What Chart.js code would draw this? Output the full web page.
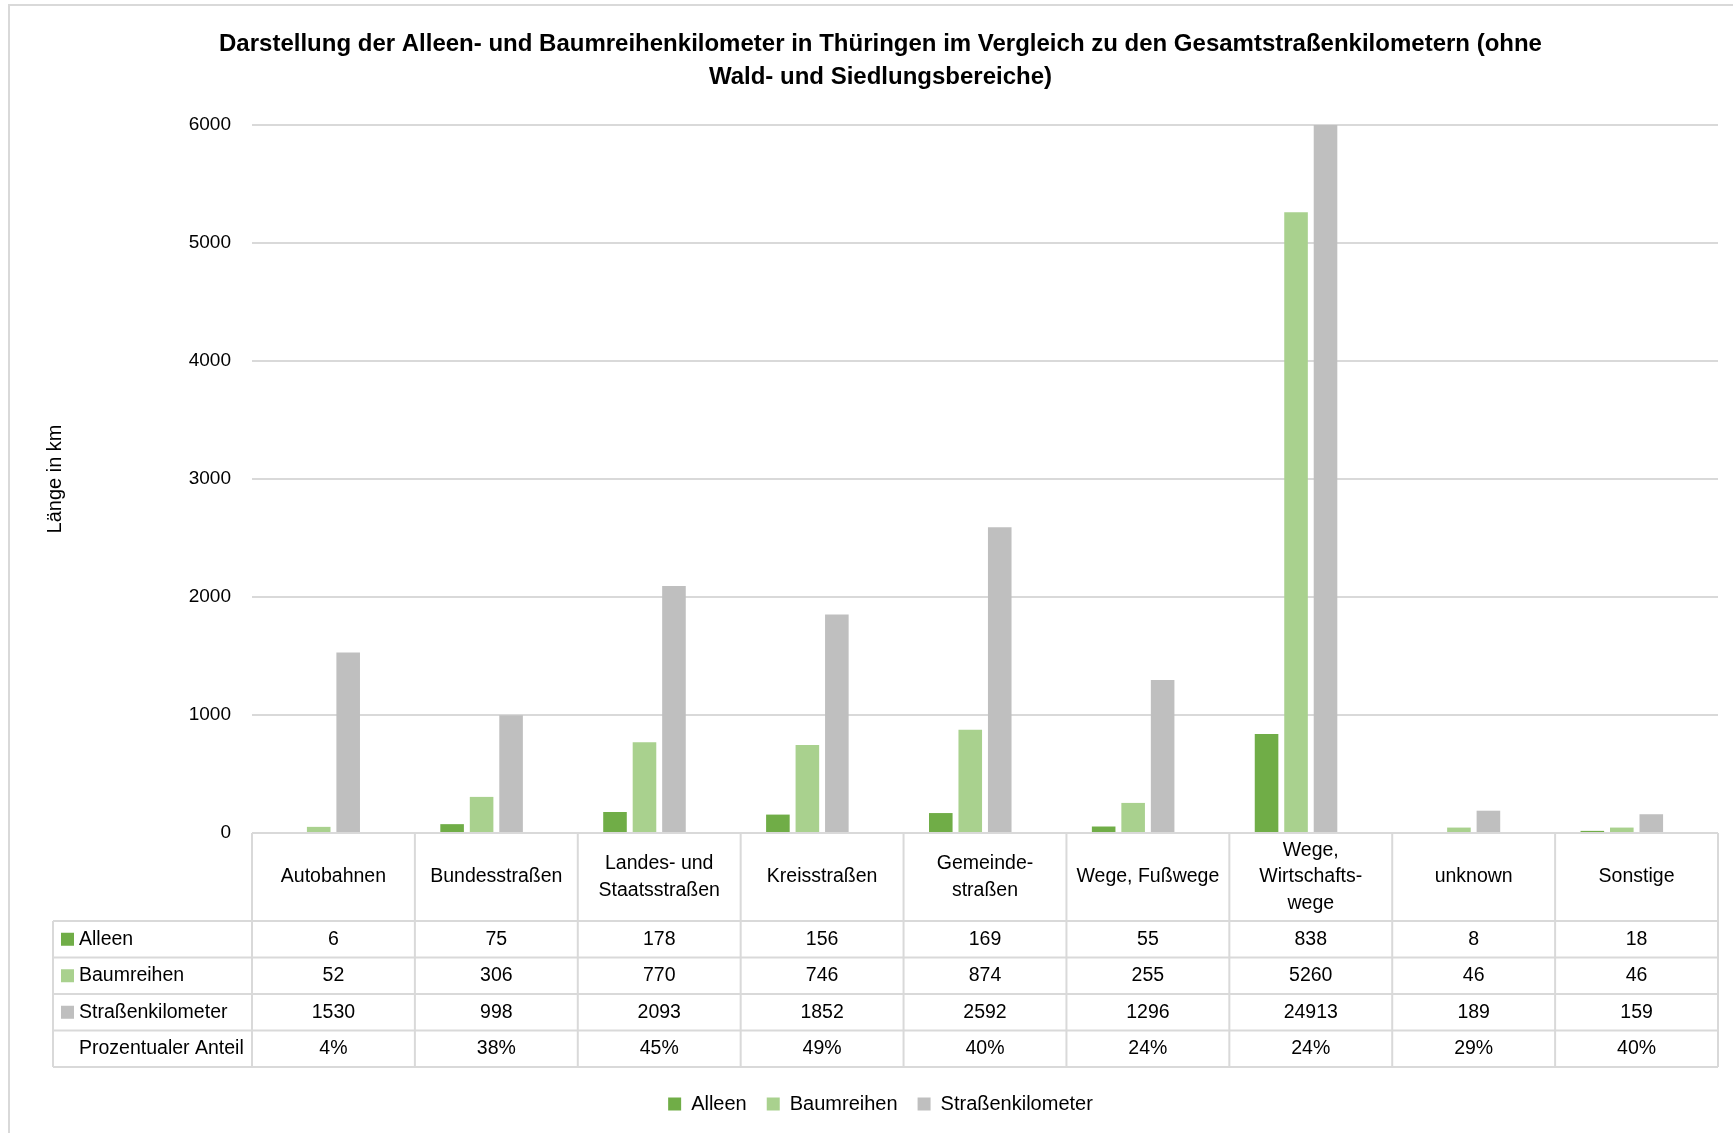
<!DOCTYPE html>
<html>
<head>
<meta charset="utf-8">
<title>Alleen und Baumreihen in Thüringen</title>
<script src="https://cdn.jsdelivr.net/npm/chart.js@4.4.1/dist/chart.umd.min.js"></script>
<style>
  body { margin: 0; background: #fff; }
  #wrap { width: 1733px; height: 1133px; }
</style>
</head>
<body>
<div id="wrap"><canvas id="chart"></canvas></div>
<script>
// Straßenkategorien (mehrzeilige Beschriftung für die Tabellenköpfe)
const categories = [
    ['Autobahnen'],
    ['Bundesstraßen'],
    ['Landes- und', 'Staatsstraßen'],
    ['Kreisstraßen'],
    ['Gemeinde-', 'straßen'],
    ['Wege, Fußwege'],
    ['Wege,', 'Wirtschafts-', 'wege'],
    ['unknown'],
    ['Sonstige'],
];

// Längen in km
const alleen = [6, 75, 178, 156, 169, 55, 838, 8, 18];
const baumreihen = [52, 306, 770, 746, 874, 255, 5260, 46, 46];
const strassenkm = [1530, 998, 2093, 1852, 2592, 1296, 24913, 189, 159];
// Anteil (Alleen + Baumreihen) an den Straßenkilometern
const anteil = [0.04, 0.38, 0.45, 0.49, 0.40, 0.24, 0.24, 0.29, 0.40];

const yMax = 6000;
const yStep = 1000;

const colors = {
    alleen: '#70AD47',
    baumreihen: '#A9D18E',
    strassen: '#BFBFBF',
};

const FONT = '"Liberation Sans", Arial, sans-serif';
const LINE = '#D9D9D9';

// Rahmen um das ganze Diagramm
const framePlugin = {
    id: 'frame',
    beforeDraw(chart) {
        const ctx = chart.ctx;
        ctx.save();
        ctx.fillStyle = '#fff';
        ctx.fillRect(0, 0, chart.width, chart.height);
        ctx.strokeStyle = LINE;
        ctx.lineWidth = 2;
        ctx.strokeRect(9, 5, chart.width + 10, chart.height + 10);
        ctx.restore();
    },
};

// Datentabelle unterhalb der Rubrikenachse
const tablePlugin = {
    id: 'datatable',
    afterDraw(chart) {
        const { ctx, chartArea } = chart;
        const x = chart.scales.x;
        const n = categories.length;
        const colW = (chartArea.right - chartArea.left) / n;
        const top = chartArea.bottom;
        const headH = 88;
        const rowH = 36.5;
        const tableLeft = 53;

        const rows = [
            { label: 'Alleen', color: colors.alleen, values: alleen },
            { label: 'Baumreihen', color: colors.baumreihen, values: baumreihen },
            { label: 'Straßenkilometer', color: colors.strassen, values: strassenkm },
            { label: 'Prozentualer Anteil', color: null, values: anteil.map(v => Math.round(v * 100) + '%') },
        ];
        const bottom = top + headH + rows.length * rowH;

        ctx.save();
        ctx.strokeStyle = LINE;
        ctx.lineWidth = 2;

        // horizontale Linien
        ctx.beginPath();
        ctx.moveTo(chartArea.left, top);
        ctx.lineTo(chartArea.right, top);
        for (let r = 0; r <= rows.length; r++) {
            const y = top + headH + r * rowH;
            ctx.moveTo(tableLeft, y);
            ctx.lineTo(chartArea.right, y);
        }
        // vertikale Linien
        for (let i = 0; i <= n; i++) {
            const xx = chartArea.left + i * colW;
            ctx.moveTo(xx, top);
            ctx.lineTo(xx, bottom);
        }
        ctx.moveTo(tableLeft, top + headH);
        ctx.lineTo(tableLeft, bottom);
        ctx.stroke();

        ctx.fillStyle = '#000';
        ctx.textAlign = 'center';
        ctx.textBaseline = 'middle';
        ctx.font = '19.5px ' + FONT;

        // Kopfzeile
        categories.forEach((lines, i) => {
            const cx = x.getPixelForValue(i);
            const lh = 26.5;
            const y0 = top + headH / 2 - (lines.length - 1) * lh / 2;
            lines.forEach((t, k) => ctx.fillText(t, cx, y0 + k * lh));
        });

        // Datenzeilen
        rows.forEach((row, r) => {
            const cy = top + headH + r * rowH + rowH / 2;
            if (row.color) {
                ctx.fillStyle = row.color;
                ctx.fillRect(tableLeft + 8, cy - 6.5, 13, 13);
            }
            ctx.fillStyle = '#000';
            ctx.textAlign = 'left';
            ctx.fillText(row.label, tableLeft + 26, cy);
            ctx.textAlign = 'center';
            row.values.forEach((v, i) => ctx.fillText(String(v), x.getPixelForValue(i), cy));
        });
        ctx.restore();
    },
};

const ctx = document.getElementById('chart');
new Chart(ctx, {
    type: 'bar',
    data: {
        labels: categories,
        datasets: [
            { label: 'Alleen', data: alleen, backgroundColor: colors.alleen },
            { label: 'Baumreihen', data: baumreihen, backgroundColor: colors.baumreihen },
            { label: 'Straßenkilometer', data: strassenkm, backgroundColor: colors.strassen },
            { label: 'Prozentualer Anteil', data: anteil, backgroundColor: 'rgba(0,0,0,0)' },
        ],
    },
    options: {
        responsive: true,
        maintainAspectRatio: false,
        animation: false,
        datasets: {
            bar: { categoryPercentage: 0.724, barPercentage: 0.8, borderWidth: 0 },
        },
        layout: { padding: { left: 43, right: 15, top: 0, bottom: 9 } },
        plugins: {
            title: {
                display: true,
                text: [
                    'Darstellung der Alleen- und Baumreihenkilometer in Thüringen im Vergleich zu den Gesamtstraßenkilometern (ohne',
                    'Wald- und Siedlungsbereiche)',
                ],
                color: '#000',
                font: { family: FONT, size: 24, weight: 'bold', lineHeight: 1.375 },
                padding: { top: 28, bottom: 31 },
            },
            legend: {
                position: 'bottom',
                labels: {
                    color: '#000',
                    font: { family: FONT, size: 20 },
                    boxWidth: 13,
                    boxHeight: 13,
                    padding: 20,
                    filter: (item) => item.datasetIndex < 3,
                },
            },
            tooltip: { enabled: false },
        },
        scales: {
            x: {
                grid: { display: false },
                border: { display: false },
                ticks: { display: false },
                afterFit(scale) { scale.height = 241; },
            },
            y: {
                min: 0,
                max: yMax,
                ticks: {
                    stepSize: yStep,
                    color: '#000',
                    font: { family: FONT, size: 19 },
                    padding: 21,
                    callback: (v) => String(v),
                },
                grid: { color: LINE, lineWidth: 2, drawTicks: false },
                border: { display: false },
                title: {
                    display: true,
                    text: 'Länge in km',
                    color: '#000',
                    font: { family: FONT, size: 20 },
                    padding: 0,
                },
                afterFit(scale) { scale.width = 209; },
            },
        },
    },
    plugins: [framePlugin, tablePlugin],
});
</script>
</body>
</html>
